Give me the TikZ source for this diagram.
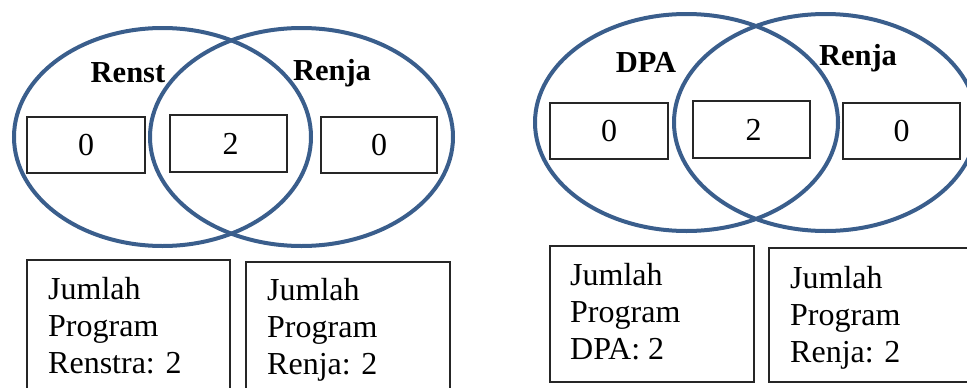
\documentclass[tikz,border=0pt]{standalone}
\usepackage{fontspec}
\setmainfont{Liberation Serif}
\usetikzlibrary{shapes.geometric}
\definecolor{vennblue}{HTML}{3A5E8C}
\tikzset{
  venn/.style={ellipse, draw=vennblue, line width=4pt, inner sep=0pt},
  numbox/.style={rectangle, draw=black!85, line width=1.3pt, fill=white, inner sep=0pt,
    font=\fontsize{32}{36}\selectfont},
  infobox/.style={rectangle, draw=black!85, line width=1.3pt, inner sep=0pt},
  infotext/.style={anchor=base west, inner sep=0pt, align=left,
    font=\fontsize{32}{37}\selectfont},
  setlabel/.style={anchor=base, inner sep=0pt, font=\fontsize{30.5}{34}\selectfont\bfseries}
}
\begin{document}
\begin{tikzpicture}[x=1pt,y=-1pt]
\useasboundingbox (0,0) rectangle (967,388);
\clip (0,0) rectangle (967,388);
% left Venn
\node[venn, minimum width=297pt, minimum height=218pt] (e1) at (162.5,137) {};
\node[venn, minimum width=303pt, minimum height=218pt] (e2) at (301.5,137) {};
\node[numbox, minimum width=118pt, minimum height=56pt] (n1) at (86,145) {0};
\node[numbox, minimum width=117pt, minimum height=57pt] (n2) at (228.5,143.5) {\hspace{4pt}2};
\node[numbox, minimum width=116pt, minimum height=56pt] (n3) at (379,145) {0};
\node[setlabel] (l1) at (128,82) {Renst};
\node[setlabel] (l2) at (332,80) {Renja};
% right Venn
\node[venn, minimum width=303pt, minimum height=217pt] (e3) at (686.5,122.5) {};
\node[venn, minimum width=303pt, minimum height=217pt] (e4) at (825.5,122.5) {};
\node[numbox, minimum width=118pt, minimum height=56pt] (n4) at (609,131) {0};
\node[numbox, minimum width=117pt, minimum height=57pt] (n5) at (751.5,129.5) {\hspace{4pt}2};
\node[numbox, minimum width=117pt, minimum height=56pt] (n6) at (901.5,131) {0};
\node[setlabel] (l3) at (646,72) {DPA};
\node[setlabel] (l4) at (858,65) {Renja};
% bottom boxes
\node[infobox, minimum width=203pt, minimum height=135pt] (b1) at (128.5,327.5) {};
\node[infobox, minimum width=204pt, minimum height=133pt] (b2) at (348,328.5) {};
\node[infobox, minimum width=204pt, minimum height=136pt] (b3) at (652,314) {};
\node[infobox, minimum width=206pt, minimum height=134pt] (b4) at (872,315) {};
\node[infotext] (t1) at (48,373) {Jumlah\\Program\\Renstra: 2};
\node[infotext] (t2) at (267,374) {Jumlah\\Program\\Renja: 2};
\node[infotext] (t3) at (570,359) {Jumlah\\Program\\DPA: 2};
\node[infotext] (t4) at (790,362) {Jumlah\\Program\\Renja: 2};
\end{tikzpicture}
\end{document}
